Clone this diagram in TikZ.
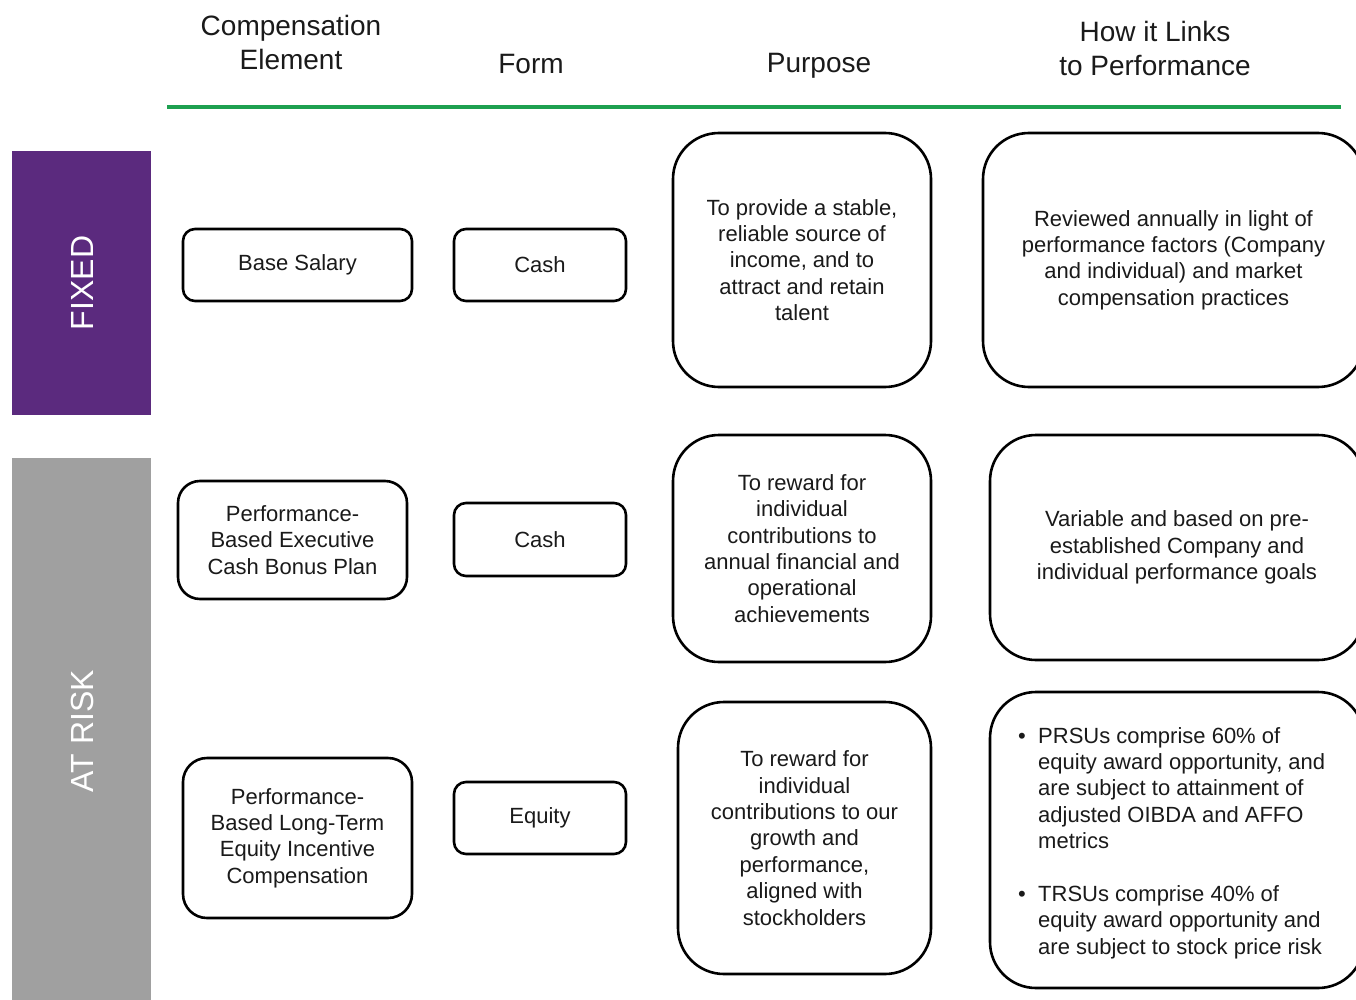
\documentclass[tikz,border=0pt]{standalone}
\usepackage{fontspec}
\setmainfont{Liberation Sans}
\definecolor{fixedpurple}{HTML}{5B2A7E}
\definecolor{riskgray}{HTML}{A0A0A0}
\definecolor{rulegreen}{HTML}{1DA050}
\definecolor{txt}{HTML}{1A1A1A}
\begin{document}
\begin{tikzpicture}[x=1pt,y=-1pt,
  body/.style={font=\fontsize{22}{26.4}\selectfont, text=txt, align=center},
  head/.style={font=\fontsize{28}{34}\selectfont, text=txt, align=center},
  band/.style={font=\fontsize{32}{36}\selectfont, text=white, rotate=90},
  box/.style={body, draw=black, line width=2.6pt, inner sep=0pt, outer sep=0pt},
  smallbox/.style={box, rounded corners=12pt},
  midbox/.style={box, rounded corners=24pt},
  bigbox/.style={box, rounded corners=46pt}
]
\useasboundingbox (0,0) rectangle (1356,1000);
\fill[white] (0,0) rectangle (1356,1000);
\clip (0,0) rectangle (1356,1000);

% headers
\node[head] (h1) at (291,42) {Compensation\\Element};
\node[head] (h2) at (531,64) {Form};
\node[head] (h3) at (819,66) {Purpose};
\node[head] (h4) at (1155,48) {How it Links\\to Performance};
\coordinate (gl) at (167,107);
\coordinate (gr) at (1341,107);
\draw[rulegreen, line width=4pt] (gl) -- (gr);

% side bands
\fill[fixedpurple] (12,151) rectangle (151,415);
\node[band] (fixed) at (82,283) {FIXED};
\fill[riskgray] (12,458) rectangle (151,1010);
\node[band] (atrisk) at (82,731) {AT RISK};

% row 1
\node[smallbox, minimum width=229pt, minimum height=72pt] (base) at (297.5,265) {\raisebox{-2pt}{Base Salary}};
\node[smallbox, minimum width=172pt, minimum height=72pt] (cash1) at (540,265) {\raisebox{-1pt}{Cash}};
\node[bigbox, minimum width=258pt, minimum height=254pt] (pur1) at (802,260)
  {To provide a stable,\\reliable source of\\income, and to\\attract and retain\\talent};
\node[bigbox, minimum width=381pt, minimum height=254pt] (link1) at (1173.5,260)
  {Reviewed annually in light of\\performance factors (Company\\and individual) and market\\compensation practices};

% row 2
\node[midbox, rounded corners=22pt, minimum width=229pt, minimum height=118pt] (bonus) at (292.5,540)
  {Performance-\\Based Executive\\Cash Bonus Plan};
\node[smallbox, minimum width=172pt, minimum height=73pt] (cash2) at (540,539.5) {Cash};
\node[bigbox, minimum width=258pt, minimum height=227pt] (pur2) at (802,548.5)
  {To reward for\\individual\\contributions to\\annual financial and\\operational\\achievements};
\node[bigbox, minimum width=374pt, minimum height=225pt] (link2) at (1177,547.5)
  {Variable and based on pre-\\established Company and\\individual performance goals};

% row 3
\node[midbox, minimum width=229pt, minimum height=160pt] (ltip) at (297.5,838)
  {Performance-\\Based Long-Term\\Equity Incentive\\Compensation};
\node[smallbox, minimum width=172pt, minimum height=72pt] (equity) at (540,818) {\raisebox{-1pt}{Equity}};
\node[bigbox, minimum width=253pt, minimum height=272pt] (pur3) at (804.5,838)
  {To reward for\\individual\\contributions to our\\growth and\\performance,\\aligned with\\stockholders};
\node[bigbox, minimum width=374pt, minimum height=296pt] (link3) at (1177,840) {};
\node[body, align=left, anchor=north west, inner sep=0pt] (bullets) at (1018,727)
  {\makebox[20pt][l]{\textbullet}PRSUs comprise 60\% of\\
   \hspace*{20pt}equity award opportunity, and\\
   \hspace*{20pt}are subject to attainment of\\
   \hspace*{20pt}adjusted OIBDA and AFFO\\
   \hspace*{20pt}metrics\\[26.4pt]
   \makebox[20pt][l]{\textbullet}TRSUs comprise 40\% of\\
   \hspace*{20pt}equity award opportunity and\\
   \hspace*{20pt}are subject to stock price risk};
\end{tikzpicture}
\end{document}
